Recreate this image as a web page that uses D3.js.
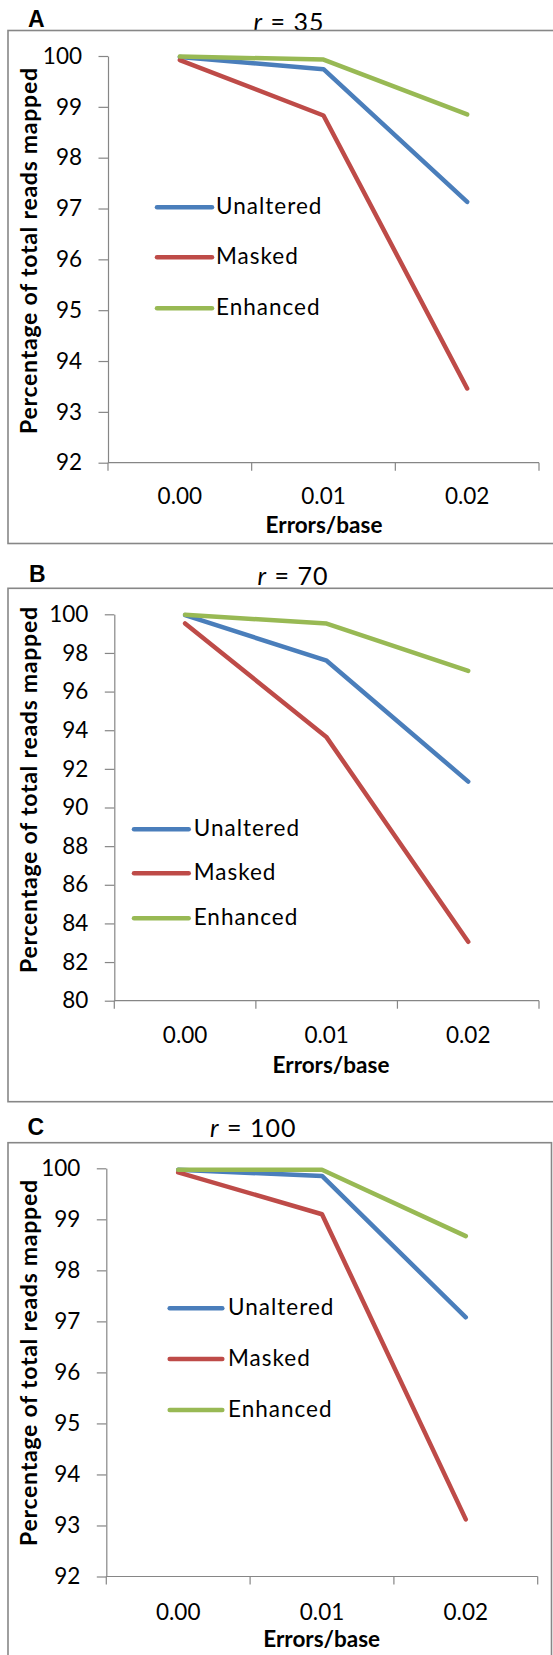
<!DOCTYPE html>
<html><head><meta charset="utf-8">
<script src="https://cdn.jsdelivr.net/npm/d3@7"></script>
<style>body{margin:0;background:#fff} svg{display:block}</style>
</head><body><svg id="c" width="553" height="1655"></svg>
<script>
// ---------- data ----------
const categories = ["0.00", "0.01", "0.02"];
const seriesNames = ["Unaltered", "Masked", "Enhanced"];
const panelLetters = ["A", "B", "C"];
const panelR = ["35", "70", "100"];

const unalteredA = [99.98, 99.74, 97.13];
const maskedA    = [99.92, 98.83, 93.46];
const enhancedA  = [99.99, 99.93, 98.85];

const unalteredB = [99.96, 97.60, 91.34];
const maskedB    = [99.53, 93.63, 83.05];
const enhancedB  = [99.98, 99.52, 97.07];

const unalteredC = [99.97, 99.85, 97.08];
const maskedC    = [99.92, 99.10, 93.12];
const enhancedC  = [99.97, 99.97, 98.67];

const yTicksA = [92, 93, 94, 95, 96, 97, 98, 99, 100];
const yTicksB = [80, 82, 84, 86, 88, 90, 92, 94, 96, 98, 100];
const yTicksC = [92, 93, 94, 95, 96, 97, 98, 99, 100];

const xTitleText = "Errors/base";
const yTitleText = "Percentage of total reads mapped";

// ---------- styling / layout ----------
const seriesColors = ["#4A7EBB", "#BE4B48", "#98B954"];
const axisColor = "#868686";
const frameColor = "#878787";
const FONT = "Lato, 'Open Sans', sans-serif";
const BOLD = "Lato, 'Liberation Sans', sans-serif";

const panels = [
  { series: [unalteredA, maskedA, enhancedA], ticks: yTicksA,
    frame: {x: 8, y: 30.5, w: 640, h: 513},
    plot: {l: 108, r: 539, t: 56, b: 462.7},
    letter: {x: 28, y: 26.7}, title: {x: 289, y: 31},
    xLabY: 504, xTitle: {x: 324, y: 533}, yTitle: {x: 36.5, y: 251},
    legend: {x0: 157, x1: 212, tx: 216, ys: [207.3, 257.3, 308.3]} },
  { series: [unalteredB, maskedB, enhancedB], ticks: yTicksB,
    frame: {x: 8, y: 588.3, w: 640, h: 513.4},
    plot: {l: 114.3, r: 539, t: 614.3, b: 1000.7},
    letter: {x: 29, y: 581.7}, title: {x: 293, y: 585},
    xLabY: 1043, xTitle: {x: 331, y: 1073}, yTitle: {x: 36.5, y: 790},
    legend: {x0: 134, x1: 188.7, tx: 193.7, ys: [829.3, 873.3, 918.3]} },
  { series: [unalteredC, maskedC, enhancedC], ticks: yTicksC,
    frame: {x: 8, y: 1142.7, w: 543.5, h: 600},
    plot: {l: 106.3, r: 537.7, t: 1168.3, b: 1576.5},
    letter: {x: 27.5, y: 1135}, title: {x: 253.3, y: 1137},
    xLabY: 1620, xTitle: {x: 321.7, y: 1646.7}, yTitle: {x: 36.5, y: 1363},
    legend: {x0: 169.7, x1: 222.3, tx: 228, ys: [1308.3, 1359, 1410]} }
];

const svg = d3.select("#c");
svg.append("rect").attr("width", 553).attr("height", 1655).attr("fill", "#fff");

panels.forEach((p, i) => {
  const g = svg.append("g");

  // panel letter
  g.append("text").attr("x", p.letter.x).attr("y", p.letter.y)
    .attr("font-family", "'Liberation Sans', Arial, sans-serif").attr("font-weight", "bold")
    .attr("font-size", 23).attr("fill", "#000").text(panelLetters[i]);

  // title (drawn before frame so the frame edge overlays it)
  const t = g.append("text").attr("x", p.title.x).attr("y", p.title.y)
    .attr("text-anchor", "middle").attr("font-family", FONT).attr("font-size", 25)
    .attr("letter-spacing", 1).attr("fill", "#000");
  t.append("tspan").attr("font-style", "italic").text("r");
  t.append("tspan").text(" = " + panelR[i]);

  // frame
  g.append("rect")
    .attr("x", p.frame.x).attr("y", p.frame.y)
    .attr("width", p.frame.w).attr("height", p.frame.h)
    .attr("fill", "#fff").attr("stroke", frameColor).attr("stroke-width", 1.6);

  const x = d3.scaleBand().domain(categories).range([p.plot.l, p.plot.r]);
  const y = d3.scaleLinear().domain([p.ticks[0], p.ticks[p.ticks.length - 1]]).range([p.plot.b, p.plot.t]);

  // y axis
  const ya = g.append("g").attr("transform", `translate(${p.plot.l},0)`)
    .call(d3.axisLeft(y).tickValues(p.ticks).tickSize(9.5).tickSizeOuter(0).tickPadding(16.5)
      .tickFormat(d3.format("d")));
  ya.select(".domain").attr("stroke", axisColor).attr("stroke-width", 1.2);
  ya.selectAll(".tick line").attr("stroke", axisColor).attr("stroke-width", 1.2);
  ya.selectAll(".tick text").attr("font-family", FONT).attr("font-size", 22.5).attr("fill", "#000");

  // x axis: line + boundary ticks
  const bounds = categories.map(c => x(c)).concat([x.range()[1]]);
  g.append("line").attr("x1", p.plot.l).attr("x2", p.plot.r).attr("y1", p.plot.b).attr("y2", p.plot.b)
    .attr("stroke", axisColor).attr("stroke-width", 1.2);
  g.selectAll(".bt").data(bounds).enter().append("line")
    .attr("x1", d => d).attr("x2", d => d).attr("y1", p.plot.b).attr("y2", p.plot.b + 8)
    .attr("stroke", axisColor).attr("stroke-width", 1.2);
  // x labels via axis
  const xa = g.append("g").attr("transform", `translate(0,${p.plot.b})`)
    .call(d3.axisBottom(x).tickSize(0).tickPadding(0));
  xa.select(".domain").remove();
  xa.selectAll(".tick text").attr("y", p.xLabY - p.plot.b).attr("dy", 0)
    .attr("font-family", FONT).attr("font-size", 22.5).attr("fill", "#000");

  // axis titles
  g.append("text").attr("x", p.xTitle.x).attr("y", p.xTitle.y).attr("text-anchor", "middle")
    .attr("font-family", BOLD).attr("font-weight", "bold").attr("font-size", 22.5).attr("fill", "#000")
    .text(xTitleText);
  g.append("text").attr("transform", `translate(${p.yTitle.x},${p.yTitle.y}) rotate(-90)`)
    .attr("text-anchor", "middle").attr("font-family", BOLD).attr("font-weight", "bold")
    .attr("font-size", 23).attr("textLength", 366).attr("lengthAdjust", "spacing")
    .attr("fill", "#000").text(yTitleText);

  // series lines
  const line = d3.line().x((d, j) => x(categories[j]) + x.bandwidth() / 2).y(d => y(d));
  p.series.forEach((s, k) => {
    g.append("path").datum(s).attr("d", line).attr("fill", "none")
      .attr("stroke", seriesColors[k]).attr("stroke-width", 4.5)
      .attr("stroke-linejoin", "round").attr("stroke-linecap", "round");
  });

  // legend
  seriesNames.forEach((name, k) => {
    const ly = p.legend.ys[k];
    g.append("line").attr("x1", p.legend.x0).attr("x2", p.legend.x1).attr("y1", ly).attr("y2", ly)
      .attr("stroke", seriesColors[k]).attr("stroke-width", 4.5).attr("stroke-linecap", "round");
    g.append("text").attr("x", p.legend.tx).attr("y", ly + 7)
      .attr("font-family", FONT).attr("font-size", 22.5).attr("letter-spacing", 1)
      .attr("fill", "#000").text(name);
  });
});
</script></body></html>
